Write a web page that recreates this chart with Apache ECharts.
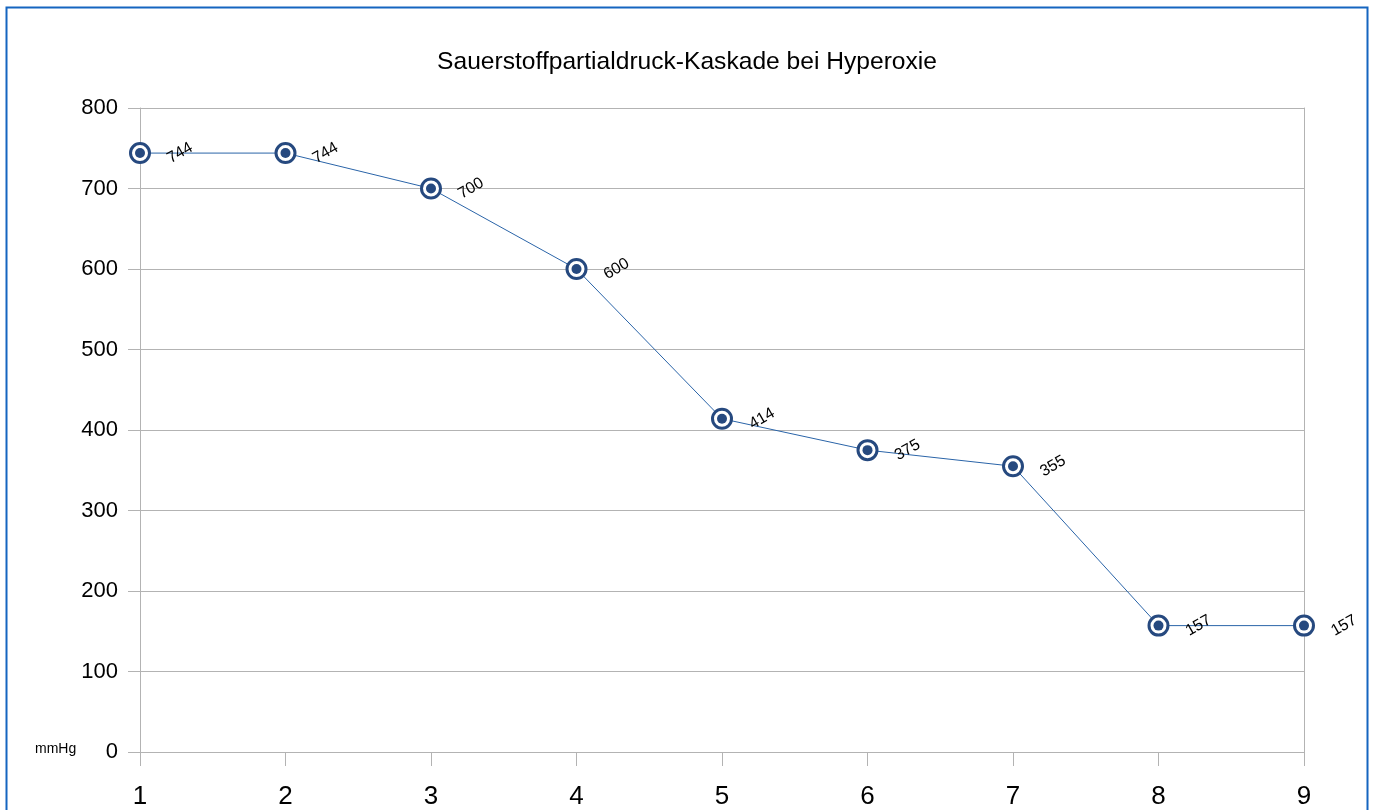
<!DOCTYPE html>
<html><head><meta charset="utf-8">
<script src="https://cdn.jsdelivr.net/npm/echarts@6/dist/echarts.min.js"></script>
<style>html,body{margin:0;padding:0;background:#fff}#c{width:1374px;height:810px}</style>
</head><body><div id="c"></div>
<script>
const categories = ['1','2','3','4','5','6','7','8','9'];
const values = [744, 744, 700, 600, 414, 375, 355, 157, 157];
const yTicks = {min: 0, max: 800, interval: 100};
const titleText = 'Sauerstoffpartialdruck-Kaskade bei Hyperoxie';
const unitText = 'mmHg';

const chart = echarts.init(document.getElementById('c'));
const grey = '#b3b3b3';
const markerColor = '#26497f';
chart.setOption({
  animation: false,
  textStyle: {fontFamily: 'Liberation Sans, Arial, sans-serif'},
  title: {text: titleText, left: 'center', top: 45,
    textStyle: {fontSize: 24.6, fontWeight: 'normal', color: '#000', fontFamily: 'Liberation Sans'}},
  grid: {left: 140, right: 70, top: 108, bottom: 58, containLabel: false},
  graphic: [
    {type: 'polyline', shape: {points: [[6.5, 820], [6.5, 7.5], [1367.5, 7.5], [1367.5, 820]]},
     style: {stroke: '#1565c0', lineWidth: 2, fill: null}, silent: true},
    {type: 'text', left: 35, top: 742, style: {text: unitText, fontSize: 14, fill: '#000', fontFamily: 'Liberation Sans'}}
  ],
  xAxis: {type: 'category', data: categories, boundaryGap: false,
    axisLine: {lineStyle: {color: grey, width: 1}},
    axisTick: {show: true, length: 14, alignWithLabel: true, lineStyle: {color: grey}},
    axisLabel: {fontSize: 26, color: '#000', margin: 32},
    splitLine: {show: false}},
  yAxis: [{type: 'value', min: yTicks.min, max: yTicks.max, interval: yTicks.interval,
    axisLine: {show: true, lineStyle: {color: grey}},
    axisTick: {show: true, length: 12, lineStyle: {color: grey}},
    axisLabel: {fontSize: 22, color: '#000', margin: 22},
    splitLine: {lineStyle: {color: grey, width: 1}}},
    {type: 'value', position: 'right', min: yTicks.min, max: yTicks.max, interval: yTicks.interval,
    axisLine: {show: true, lineStyle: {color: grey}}, axisTick: {show: false}, axisLabel: {show: false},
    splitLine: {show: false}}],
  series: [
    {type: 'line', data: values, yAxisIndex: 0, symbol: 'circle', symbolSize: 19,
     lineStyle: {color: '#2a64a8', width: 1},
     itemStyle: {color: '#ffffff', borderColor: markerColor, borderWidth: 3, opacity: 1},
     label: {show: true, position: 'right', distance: 29, rotate: 30, fontSize: 16, color: '#000',
       align: 'center', verticalAlign: 'middle', fontFamily: 'Liberation Sans'}, z: 2},
    {type: 'scatter', data: values, yAxisIndex: 0, symbol: 'circle', symbolSize: 10,
     itemStyle: {color: markerColor, opacity: 1}, z: 3}
  ]
});
</script></body></html>
